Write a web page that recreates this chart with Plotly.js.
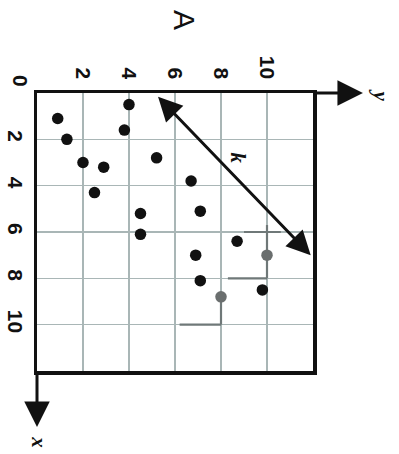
<!DOCTYPE html>
<html>
<head>
<meta charset="utf-8">
<script src="https://cdn.plot.ly/plotly-3.0.1.min.js"></script>
<style>
  html, body { margin: 0; padding: 0; background: #fff; }
  #chart { width: 399px; height: 454px; }
</style>
</head>
<body>
<div id="chart"></div>
<script>
// Sample points: x runs down the page, y runs to the right.
const blackX = [1.1, 2.0, 0.5, 1.6, 3.0, 3.2, 4.3, 2.8, 5.2, 6.1, 3.8, 5.1, 6.4, 7.0, 8.1, 8.5];
const blackY = [0.9, 1.3, 4.0, 3.8, 2.0, 2.9, 2.5, 5.2, 4.5, 4.5, 6.7, 7.1, 8.7, 6.9, 7.1, 9.8];
const grayX = [7.0, 8.8];
const grayY = [10.0, 8.0];

// Highlighted grid segments (null breaks the line between segments)
const segX = [6, 6, null, 5.7, 8, null, 8, 8, null, 8.8, 10, null, 10, 10];
const segY = [9, 10.6, null, 10, 10, null, 8.3, 10, null, 8, 8, null, 6.2, 8];

// Tick marks shared by both axes
const tickValues = [2, 4, 6, 8, 10];
const tickLabels = ['2', '4', '6', '8', '10'];
const axisRange = [0, 12];

// Double-headed arrow k (from / to, in data units)
const kFrom = {x: 0.1, y: 5.2};
const kTo = {x: 7.0, y: 11.9};

const tickFont = {family: 'Liberation Sans, Arial, sans-serif', size: 21, color: '#111', weight: 700};
const labelFont = {family: 'Liberation Serif, serif', size: 21, color: '#111', style: 'italic', weight: 700};

const traces = [
  {
    x: segY, y: segX, mode: 'lines', type: 'scatter',
    line: {color: '#6f7878', width: 2.2},
    hoverinfo: 'skip', connectgaps: false
  },
  {
    x: blackY, y: blackX, mode: 'markers', type: 'scatter',
    marker: {color: '#111', size: 11.5}
  },
  {
    x: grayY, y: grayX, mode: 'markers', type: 'scatter',
    marker: {color: '#6a6e6e', size: 11.5}
  }
];

function label(xref, yref, x, y, text, font) {
  return {xref: xref, yref: yref, x: x, y: y, text: text, showarrow: false,
          xanchor: 'center', yanchor: 'middle', textangle: 90, font: font};
}

const layout = {
  width: 399, height: 454,
  margin: {l: 37, r: 86, t: 93, b: 83},
  paper_bgcolor: '#fff', plot_bgcolor: '#fff',
  showlegend: false,
  xaxis: {
    range: axisRange, side: 'top',
    tickvals: tickValues, ticktext: tickLabels, tickangle: 90,
    ticks: 'outside', ticklen: 3, tickcolor: 'rgba(0,0,0,0)',
    tickfont: tickFont,
    showgrid: true, gridcolor: '#a9b6b6', gridwidth: 1.5,
    showline: true, mirror: true, linecolor: '#111', linewidth: 3.5,
    zeroline: false, fixedrange: true
  },
  yaxis: {
    range: [axisRange[1], axisRange[0]],
    tickvals: tickValues, ticktext: tickLabels, tickangle: 90,
    ticks: '', tickfont: tickFont,
    showgrid: true, gridcolor: '#a9b6b6', gridwidth: 1.5,
    showline: true, mirror: true, linecolor: '#111', linewidth: 3.5,
    zeroline: false, fixedrange: true
  },
  annotations: [
    // y axis arrow (to the right)
    {xref: 'paper', yref: 'paper', x: 1.181, y: 1, ax: -50, ay: 0, text: '',
     showarrow: true, arrowhead: 2, arrowsize: 1.7, arrowwidth: 3, arrowcolor: '#111'},
    // x axis arrow (downward)
    {xref: 'paper', yref: 'paper', x: 0, y: -0.2014, ax: 0, ay: -56, text: '',
     showarrow: true, arrowhead: 2, arrowsize: 1.7, arrowwidth: 3, arrowcolor: '#111'},
    // k arrow
    {xref: 'x', yref: 'y', axref: 'x', ayref: 'y',
     x: kTo.y, y: kTo.x, ax: kFrom.y, ay: kFrom.x, text: '',
     showarrow: true, arrowside: 'end+start',
     arrowhead: 2, startarrowhead: 2, arrowsize: 1.6, startarrowsize: 1.6,
     arrowwidth: 3, arrowcolor: '#111'},
    // labels
    label('paper', 'paper', 1.245, 0.9928, 'y', labelFont),
    label('paper', 'paper', 0.006, -0.255, 'x', labelFont),
    label('x', 'y', 8.74, 2.78, 'k', labelFont),
    label('paper', 'paper', -0.058, 1.043, '0', tickFont),
    label('paper', 'paper', 0.533, 1.2626, 'A',
          {family: 'Liberation Sans, Arial, sans-serif', size: 30, color: '#111'})
  ]
};

Plotly.newPlot('chart', traces, layout, {displayModeBar: false, staticPlot: true});
</script>
</body>
</html>
